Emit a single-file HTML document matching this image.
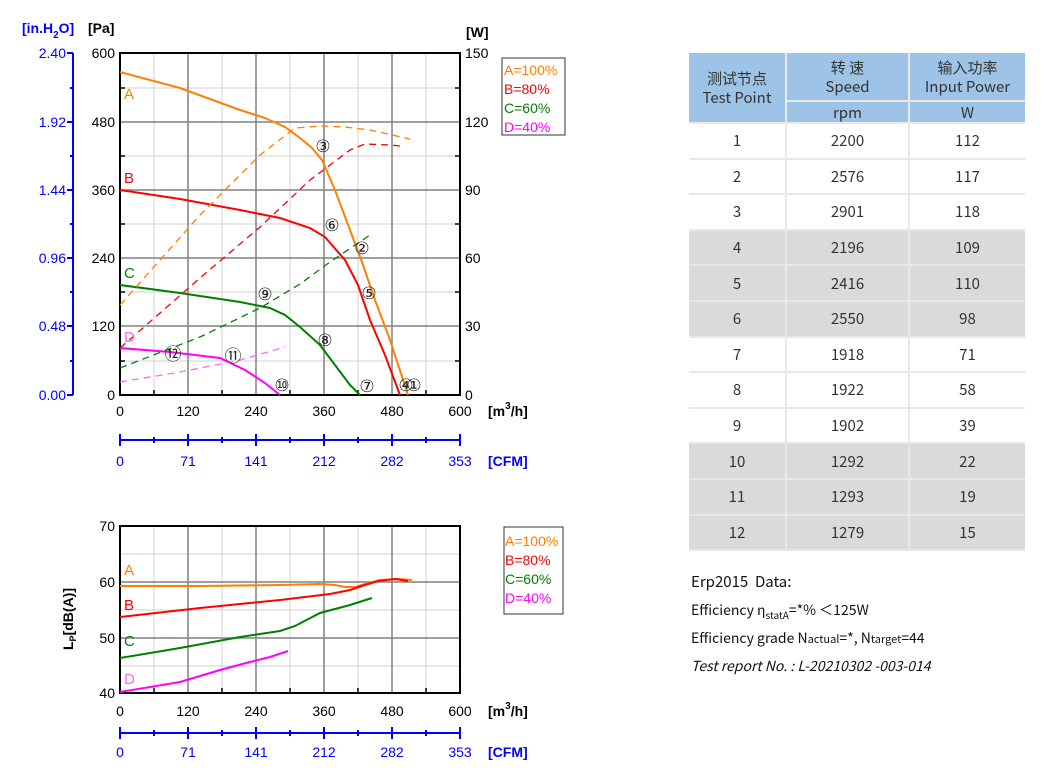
<!DOCTYPE html>
<html><head><meta charset="utf-8"><style>
body{margin:0;background:#fff;width:1044px;height:771px;overflow:hidden;position:relative;font-family:"Liberation Sans","Noto Sans CJK SC",sans-serif}
.t{position:absolute;font-family:"Noto Sans CJK SC","Liberation Sans",sans-serif;color:#333;font-size:15px;text-align:center;display:flex;align-items:center;justify-content:center;line-height:19px}
.h{background:#9dc3e6}
.g{background:#dadada}
.w{background:#fff}
.e{position:absolute;left:691px;font-family:'Noto Sans CJK SC',sans-serif;font-size:14px;color:#111;white-space:nowrap;height:28px;line-height:28px}
</style></head><body>
<svg width="600" height="771" style="position:absolute;left:0;top:0" font-family="Liberation Sans, sans-serif">
<g stroke="#d0d0d0" stroke-width="1">
<line x1="120" y1="88" x2="460" y2="88"/><line x1="120" y1="156" x2="460" y2="156"/><line x1="120" y1="224" x2="460" y2="224"/><line x1="120" y1="292" x2="460" y2="292"/><line x1="120" y1="361" x2="460" y2="361"/>
<line x1="154" y1="53" x2="154" y2="395"/><line x1="222" y1="53" x2="222" y2="395"/><line x1="290" y1="53" x2="290" y2="395"/><line x1="358" y1="53" x2="358" y2="395"/><line x1="426" y1="53" x2="426" y2="395"/>
<line x1="120" y1="554" x2="460" y2="554"/><line x1="120" y1="610" x2="460" y2="610"/><line x1="120" y1="666" x2="460" y2="666"/>
<line x1="154" y1="526" x2="154" y2="693"/><line x1="222" y1="526" x2="222" y2="693"/><line x1="290" y1="526" x2="290" y2="693"/><line x1="358" y1="526" x2="358" y2="693"/><line x1="426" y1="526" x2="426" y2="693"/>
</g>
<g stroke="#808080" stroke-width="1.5">
<line x1="120" y1="122" x2="460" y2="122"/><line x1="120" y1="190" x2="460" y2="190"/><line x1="120" y1="258" x2="460" y2="258"/><line x1="120" y1="326" x2="460" y2="326"/>
<line x1="188" y1="53" x2="188" y2="395"/><line x1="256" y1="53" x2="256" y2="395"/><line x1="324" y1="53" x2="324" y2="395"/><line x1="392" y1="53" x2="392" y2="395"/>
<line x1="120" y1="582" x2="460" y2="582"/><line x1="120" y1="638" x2="460" y2="638"/>
<line x1="188" y1="526" x2="188" y2="693"/><line x1="256" y1="526" x2="256" y2="693"/><line x1="324" y1="526" x2="324" y2="693"/><line x1="392" y1="526" x2="392" y2="693"/>
</g>
<rect x="120" y="53" width="340" height="342" fill="none" stroke="#000" stroke-width="2"/>
<rect x="120" y="526" width="340" height="167" fill="none" stroke="#000" stroke-width="2"/>
<g stroke="#000" stroke-width="1.5">
<path d="M120 88H125M120 156H125M120 224H125M120 292H125M120 361H125M455 88H460M455 156H460M455 224H460M455 292H460M455 361H460M154 390V395M222 390V395M290 390V395M358 390V395M426 390V395M154 688V693M222 688V693M290 688V693M358 688V693M426 688V693"/>
</g>
<g stroke="#0000ff" stroke-width="2" fill="none">
<line x1="73" y1="53" x2="73" y2="395"/>
<path d="M67 53H73M67 122H73M67 190H73M67 258H73M67 326H73M67 395H73M70 88H73M70 156H73M70 224H73M70 292H73M70 361H73"/>
<line x1="120" y1="440" x2="460" y2="440"/><path d="M120 434V446M188 434V446M256 434V446M324 434V446M392 434V446M460 434V446M154 437V443M222 437V443M290 437V443M358 437V443M426 437V443"/>
<line x1="120" y1="733" x2="460" y2="733"/><path d="M120 727V739M188 727V739M256 727V739M324 727V739M392 727V739M460 727V739M154 730V736M222 730V736M290 730V736M358 730V736M426 730V736"/>
</g>
<g fill="#0000ff" font-size="14" text-anchor="end">
<text x="66" y="58">2.40</text><text x="66" y="127">1.92</text><text x="66" y="195">1.44</text><text x="66" y="263">0.96</text><text x="66" y="331">0.48</text><text x="66" y="400">0.00</text>
</g>
<g fill="#0000ff" font-size="14" text-anchor="middle">
<text x="120" y="466">0</text><text x="188" y="466">71</text><text x="256" y="466">141</text><text x="324" y="466">212</text><text x="392" y="466">282</text><text x="460" y="466">353</text>
<text x="120" y="757">0</text><text x="188" y="757">71</text><text x="256" y="757">141</text><text x="324" y="757">212</text><text x="392" y="757">282</text><text x="460" y="757">353</text>
</g>
<text x="488" y="466" fill="#0000ff" font-size="14" font-weight="bold">[CFM]</text>
<text x="488" y="757" fill="#0000ff" font-size="14" font-weight="bold">[CFM]</text>
<text x="22" y="33" fill="#0000ff" font-size="14" font-weight="bold">[in.H<tspan font-size="10" dy="5">2</tspan><tspan dy="-5">O]</tspan></text>
<text x="88" y="33" fill="#000" font-size="14" font-weight="bold">[Pa]</text>
<text x="466" y="37" fill="#000" font-size="14" font-weight="bold">[W]</text>
<g fill="#000" font-size="14" text-anchor="end">
<text x="115" y="58">600</text><text x="115" y="127">480</text><text x="115" y="195">360</text><text x="115" y="263">240</text><text x="115" y="331">120</text><text x="115" y="400">0</text>
<text x="115" y="531">70</text><text x="115" y="587">60</text><text x="115" y="643">50</text><text x="115" y="698">40</text>
</g>
<g fill="#000" font-size="14">
<text x="465" y="58">150</text><text x="465" y="127">120</text><text x="465" y="195">90</text><text x="465" y="263">60</text><text x="465" y="331">30</text><text x="465" y="400">0</text>
</g>
<g fill="#000" font-size="14" text-anchor="middle">
<text x="120" y="416">0</text><text x="188" y="416">120</text><text x="256" y="416">240</text><text x="324" y="416">360</text><text x="392" y="416">480</text><text x="460" y="416">600</text>
<text x="120" y="716">0</text><text x="188" y="716">120</text><text x="256" y="716">240</text><text x="324" y="716">360</text><text x="392" y="716">480</text><text x="460" y="716">600</text>
</g>
<text x="488" y="416" font-size="14" font-weight="bold">[m<tspan font-size="10" dy="-7">3</tspan><tspan dy="7">/h]</tspan></text>
<text x="488" y="716" font-size="14" font-weight="bold">[m<tspan font-size="10" dy="-7">3</tspan><tspan dy="7">/h]</tspan></text>
<text transform="translate(73,650) rotate(-90)" font-size="14" font-weight="bold">L<tspan font-size="9" dy="3">P</tspan><tspan dy="-3">[dB(A)]</tspan></text>
<g fill="none" stroke-width="2">
<path stroke="#ff8000" d="M120 72 L180 88 L240 110 L265 118 L285 127 L300 138 L312 148 L322 160 L335 190 L350 230 L362 262 L375 300 L390 340 L408 395"/>
<path stroke="#ff0000" d="M120 190 L180 199 L240 210 L280 218 L310 228 L325 237 L345 260 L358 285 L370 320 L385 355 L400 395"/>
<path stroke="#008000" d="M120 285 L180 293 L240 302 L270 308 L285 315 L300 327 L320 345 L335 365 L350 385 L360 395"/>
<path stroke="#ff00ff" d="M120 348 L170 352 L220 358 L245 370 L265 383 L280 395"/>
</g>
<g fill="none" stroke-width="1.3" stroke-dasharray="7,5">
<path stroke="#ff8000" d="M120 305 L200 215 L260 155 L295 128 L320 126 L345 127 L370 130 L410 139"/>
<path stroke="#ff0000" d="M120 348 L200 278 L260 227 L310 180 L350 150 L365 144 L390 145 L400 146"/>
<path stroke="#008000" d="M120 368 L200 337 L260 308 L300 284 L330 262 L370 235"/>
<path stroke="#ff66ff" d="M120 382 L180 372 L240 360 L285 347"/>
</g>
<g font-size="15">
<text x="124" y="99" fill="#ff8000">A</text><text x="124" y="183" fill="#ff0000">B</text><text x="124" y="278" fill="#008000">C</text><text x="124" y="342" fill="#ff66ff">D</text>
</g>
<g font-size="17" fill="#222" text-anchor="middle" font-family="DejaVu Sans, sans-serif">
<text x="323" y="152">③</text><text x="362" y="254">②</text><text x="369" y="299">⑤</text><text x="332" y="231">⑥</text><text x="265" y="300">⑨</text><text x="325" y="346">⑧</text><text x="367" y="392">⑦</text><text x="173" y="360">⑫</text><text x="233" y="362">⑪</text><text x="282" y="391">⑩</text><text x="406" y="391">④</text><text x="414" y="391">①</text>
</g>
<g fill="none" stroke-width="2">
<path stroke="#ff8000" d="M120 586 L200 586 L280 585 L320 584 L335 585 L345 587 L355 587 L365 584 L380 580 L400 579 L412 580"/>
<path stroke="#ff0000" d="M120 617 L200 608 L280 600 L330 594 L350 590 L365 585 L378 581 L395 579 L408 581"/>
<path stroke="#008000" d="M120 658 L180 648 L240 637 L280 631 L295 626 L320 613 L350 605 L372 598"/>
<path stroke="#ff00ff" d="M120 692 L180 682 L220 670 L250 662 L270 657 L288 651"/>
</g>
<g font-size="15">
<text x="124" y="575" fill="#ff8000">A</text><text x="124" y="610" fill="#ff0000">B</text><text x="124" y="646" fill="#008000">C</text><text x="124" y="684" fill="#ff66ff">D</text>
</g>
<rect x="502" y="58" width="63" height="77" fill="#fff" stroke="#333"/>
<g font-size="14"><text x="504" y="75" fill="#ff8000">A=100%</text><text x="504" y="94" fill="#ff0000">B=80%</text><text x="504" y="113" fill="#008000">C=60%</text><text x="504" y="132" fill="#ff00ff">D=40%</text></g>
<rect x="504" y="527" width="59" height="87" fill="#fff" stroke="#333"/>
<g font-size="14"><text x="505" y="546" fill="#ff8000">A=100%</text><text x="505" y="565" fill="#ff0000">B=80%</text><text x="505" y="584" fill="#008000">C=60%</text><text x="505" y="603" fill="#ff00ff">D=40%</text></g>
</svg>
<div style="position:absolute;left:689px;top:53px;width:336px;height:498px;background:#e8e8e8"></div>
<div class="t h" style="left:689px;top:53px;width:96px;height:69px">测试节点<br>Test Point</div>
<div class="t h" style="left:787px;top:53px;width:121px;height:47px">转 速<br>Speed</div>
<div class="t h" style="left:910px;top:53px;width:115px;height:47px">输入功率<br>Input Power</div>
<div class="t h" style="left:787px;top:102px;width:121px;height:20px">rpm</div>
<div class="t h" style="left:910px;top:102px;width:115px;height:20px">W</div>
<div id="rows"></div>
<script>
var d=[[1,2200,112],[2,2576,117],[3,2901,118],[4,2196,109],[5,2416,110],[6,2550,98],[7,1918,71],[8,1922,58],[9,1902,39],[10,1292,22],[11,1293,19],[12,1279,15]];
var h='';for(var i=0;i<12;i++){var ty=124+i*35.6;var c=(i>=3&&i<=5)||i>=9?'g':'w';
var xs=[[689,96],[787,121],[910,115]];for(var j=0;j<3;j++){h+='<div class="t '+c+'" style="left:'+xs[j][0]+'px;top:'+ty+'px;width:'+xs[j][1]+'px;height:33.6px">'+d[i][j]+'</div>';}}
document.getElementById('rows').innerHTML=h;
</script>
<div class="e" style="top:568px;font-size:15px">Erp2015&nbsp; Data:</div>
<div class="e" style="top:596px">Efficiency η<span style="font-size:10px;position:relative;top:4px">statA</span>=*% ＜125W</div>
<div class="e" style="top:624px">Efficiency grade N<span style="font-size:11px">actual</span>=*, N<span style="font-size:11px">target</span>=44</div>
<div class="e" style="top:652px;font-style:italic">Test report No. : L-20210302 -003-014</div>
</body></html>
